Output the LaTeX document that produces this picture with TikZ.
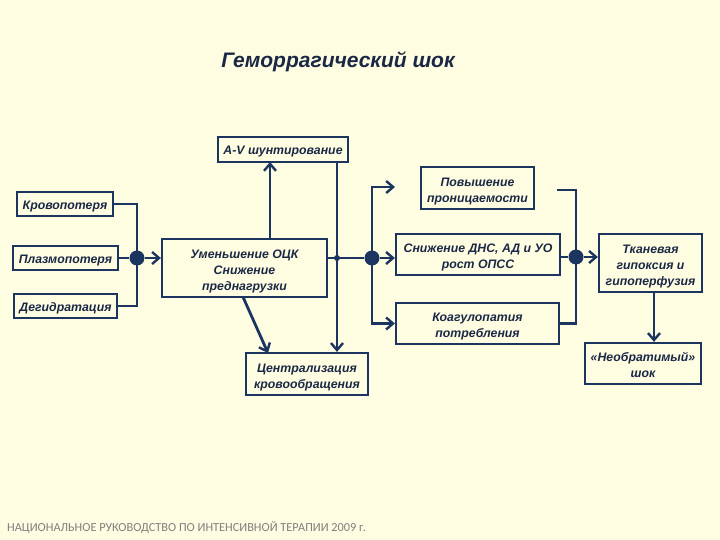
\documentclass[tikz,border=0pt]{standalone}
\usepackage{fontspec}
\setmainfont{Liberation Sans}
\newfontfamily\footfont{Carlito}
\usetikzlibrary{arrows.meta,calc}
\definecolor{bgc}{HTML}{FFFDE1}
\definecolor{navy}{HTML}{1C3560}
\definecolor{txt}{HTML}{1A2846}
\definecolor{foot}{HTML}{7F7F7F}
\newcommand\mytopstrut{\rule{0pt}{15.5pt}}
\tikzset{
  box/.style={draw=navy,line width=2.2pt,fill=bgc,align=center,inner sep=0pt,
    font=\fontsize{12.3}{16}\selectfont\bfseries\itshape,text=txt,
    execute at begin node={\rule{0pt}{13.5pt}},
    execute at end node={\rule[-3pt]{0pt}{3pt}}},
  conn/.style={draw=navy,line width=2.8pt},
  arr/.style={conn,-{Straight Barb[length=7pt,width=12pt,line width=2.4pt]}},
  jdot/.style={circle,fill=navy,inner sep=0pt,minimum size=15pt},
}
\begin{document}
\begin{tikzpicture}[x=1pt,y=-1pt]
\fill[bgc] (0,0) rectangle (720,540);
\useasboundingbox (0,0) rectangle (720,540);
\node[font=\fontsize{21}{24}\selectfont\bfseries\itshape,text=txt] (title) at (338,62) {Геморрагический шок};
\node[box,minimum width=130,minimum height=25] (av) at (283,149.5) {A-V шунтирование};
\node[box,minimum width=96,minimum height=24] (krov) at (65,204) {Кровопотеря};
\node[box,minimum width=105,minimum height=24] (plazma) at (65.5,258) {Плазмопотеря};
\node[box,minimum width=103,minimum height=24] (degid) at (65.5,306) {Дегидратация};
\node[box,minimum width=165,minimum height=58] (ock) at (244.5,268) {\mytopstrut Уменьшение ОЦК\\Снижение\\преднагрузки};
\node[box,minimum width=122,minimum height=42] (central) at (307,374) {\mytopstrut Централизация\\кровообращения};
\node[box,minimum width=113,minimum height=42] (pov) at (477.5,188) {\mytopstrut Повышение\\проницаемости};
\node[box,minimum width=164,minimum height=41] (snizh) at (478,254.5) {\mytopstrut Снижение ДНС, АД и УО\\рост ОПСС};
\node[box,minimum width=163,minimum height=41] (koag) at (477.5,323.5) {\mytopstrut Коагулопатия\\потребления};
\node[box,minimum width=103,minimum height=58] (tkan) at (650.5,263) {\mytopstrut Тканевая\\гипоксия и\\гипоперфузия};
\node[box,minimum width=116,minimum height=41] (neobr) at (643,363.5) {\mytopstrut «Необратимый»\\шок};
\node[anchor=base west,font=\footfont\fontsize{12.3}{14}\selectfont,text=foot,inner sep=0pt] (footer) at (7,531) {НАЦИОНАЛЬНОЕ РУКОВОДСТВО ПО ИНТЕНСИВНОЙ ТЕРАПИИ 2009 г.};
% junctions
\node[jdot] (d1) at (137,258) {};
\node[jdot] (d2) at (372,258) {};
\node[jdot] (d3) at (576,257) {};
\coordinate (avin) at (270,162);
\coordinate (avout) at (337,162);
\coordinate (diagA) at (243,297);
\coordinate (diagB) at (268,353);
\coordinate (povin) at (395,187);
\coordinate (povout) at (557,190);
\coordinate (tkout) at (654,292);
% left group
\draw[conn] (krov.east) -| (d1.center) |- (degid.east);
\draw[conn] (plazma.east) -- (d1);
\draw[arr] (d1) -- (ock.west |- d1);
% A-V
\draw[arr] (ock.north -| avin) -- (avin);
\draw[arr] (avout) -- (avout |- central.north);
\draw[arr] (diagA) -- (diagB);
% middle
\draw[conn] (ock.east |- d2) -- (d2);
\fill[navy] (337,258) circle (3);
\draw[arr] (d2.center) |- (povin);
\draw[arr] (d2) -- (snizh.west |- d2);
\draw[arr] (d2.center) |- (koag.west);
% right
\draw[conn] (povout) -| (d3.center) |- (koag.east);
\draw[conn] (snizh.east |- d3) -- (d3);
\draw[arr] (d3) -- (tkan.west |- d3);
\draw[arr] (tkout) -- (tkout |- neobr.north);
\end{tikzpicture}
\end{document}
